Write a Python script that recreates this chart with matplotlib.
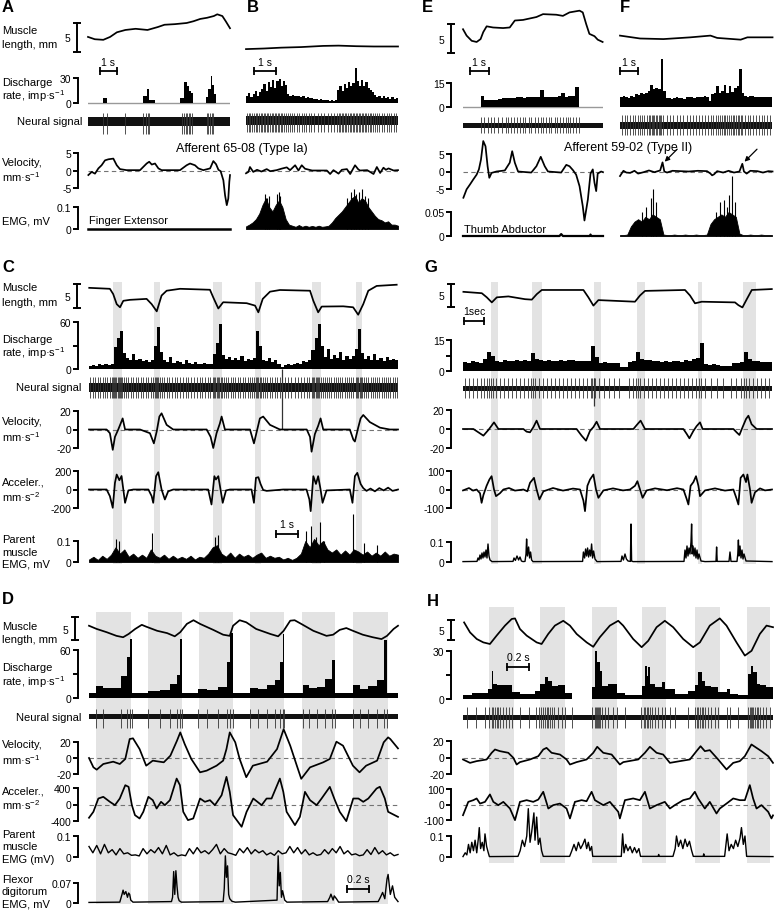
import numpy as np
import matplotlib
matplotlib.use("Agg")
import matplotlib.pyplot as plt

plt.rcParams["font.family"] = ["Liberation Sans", "DejaVu Sans"]
plt.rcParams["mathtext.fontset"] = "custom"
plt.rcParams["mathtext.rm"] = "Liberation Sans"
plt.rcParams["mathtext.it"] = "Liberation Sans:italic"
plt.rcParams["font.size"] = 8

W, H = 774, 912
fig = plt.figure(figsize=(W / 100, H / 100), dpi=100)

# ---------------- panel A (s, mm, imp/s, mm/s, mV) ----------------
A_T = 8.35
A_len_t = [0, 0.4, 0.9, 1.3, 1.7, 2.2, 2.8, 3.5, 4.1, 4.5, 5.1, 5.8, 6.2, 6.6, 7.0, 7.4, 7.6, 7.9, 8.1, 8.35]
A_len = [2.6, 2.2, 2.1, 2.6, 3.4, 3.8, 4.0, 3.8, 4.3, 4.7, 4.8, 5.0, 5.3, 5.7, 5.9, 6.2, 6.5, 6.2, 5.3, 4.1]
A_rate_edges = [0, 0.88, 1.12, 3.24, 3.47, 3.59, 3.94, 5.41, 5.66, 5.80, 5.92, 6.04, 6.16, 6.94, 7.08, 7.22, 7.31, 7.41, 7.53, 8.35]
A_rate = [0, 6, 0, 8, 17, 4, 0, 6, 25, 20, 15, 12, 0, 7, 17, 32, 22, 11, 0]
A_spk = [0.9, 1.1, 2.18, 3.25, 3.39, 3.51, 3.59, 5.51, 5.65, 5.76, 5.84, 5.92, 6.0, 6.1, 6.98, 7.08, 7.18, 7.28, 7.37]
A_vel_t = [0.02, 0.22, 0.41, 0.61, 0.8, 1.0, 1.2, 1.49, 1.69, 1.88, 2.27, 3.06, 3.45, 3.6, 3.75, 3.94, 4.14, 4.33,
           4.53, 5.41, 5.8, 6.0, 6.29, 6.49, 6.78, 7.18, 7.37, 7.53, 7.67, 7.8, 7.96, 8.06, 8.16, 8.25, 8.31, 8.35]
A_vel = [-1.3, -0.4, -0.9, 0.6, 1.5, 2.9, 3.2, 3.4, 1.5, 0.4, 0.1, 0.1, 2.0, 2.5, 1.7, 2.0, 0.6, 0.1,
         0.1, 0.1, 1.5, 2.0, 1.5, 0.6, 0.1, 0.6, 2.7, 1.8, 0.2, -0.2, -2.8, -7.1, -9.9, -8.0, -3.2, -1.3]
A_emg_t = [0, 8.35]
A_emg = [0.0, 0.0]

# ---------------- panel B ----------------
B_T = 6.9
B_len_t = [0, 0.8, 1.6, 2.5, 3.5, 4.2, 5.0, 5.8, 6.9]
B_len = [0.5, 0.6, 0.75, 0.85, 1.05, 1.1, 1.0, 0.95, 0.95]
B_rate = [8, 12, 7, 11, 14, 9, 13,
          17, 23, 14, 25, 19, 28, 18, 26, 29, 20, 27, 22,
          11, 9, 10, 8, 9, 8, 7, 8, 6, 7, 6, 6,
          5, 5, 4, 5, 4, 4, 4, 3, 4, 3, 4,
          16, 21, 15, 23, 18, 25, 20, 24, 42,
          26, 21, 28, 20, 25, 18, 16, 13,
          10, 7, 9, 6, 8, 6, 7, 5, 7, 5, 6]
B_spk = [0.04, 0.12, 0.2, 0.28, 0.36, 0.44, 0.52, 0.6,
         0.67, 0.74, 0.81, 0.88, 0.95, 1.02, 1.09, 1.16, 1.23, 1.3, 1.37, 1.44, 1.51, 1.58, 1.65, 1.72, 1.8,
         1.9, 2.0, 2.1, 2.2, 2.3, 2.41, 2.52, 2.63, 2.74, 2.85, 2.97,
         3.1, 3.25, 3.4, 3.55, 3.7, 3.85, 4.0,
         4.14, 4.21, 4.28, 4.35, 4.42, 4.49, 4.56, 4.63, 4.7, 4.77, 4.84, 4.91, 4.98, 5.05, 5.12, 5.19,
         5.26, 5.33, 5.4, 5.47, 5.54, 5.61, 5.68, 5.75,
         5.84, 5.94, 6.05, 6.16, 6.27, 6.38, 6.49, 6.6, 6.71, 6.82]
B_vel_t = [0, 0.11, 0.18, 0.33, 0.5, 0.7, 0.94, 1.1, 1.39, 1.6, 1.85, 2.0, 2.23, 2.38, 2.53, 2.68, 3.0, 3.36,
           3.67, 3.82, 3.97, 4.2, 4.35, 4.58, 4.73, 4.95, 5.1, 5.18, 5.5, 5.79, 5.94, 6.09, 6.24, 6.35, 6.47,
           6.7, 6.9]
B_vel = [-0.8, -0.4, 1.0, -0.4, 0.2, -0.3, 0.4, -0.2, 0.1, 0.5, 0.9, 0.1, 1.5, 0.0, 1.5, 0.5, 0.0, 0.0,
         0.0, -1.0, 0.1, -0.9, 0.2, 0.4, -1.0, 1.5, 0.3, 0.0, 0.1, -1.0, 1.0, -0.7, 0.8, 0.2, 0.6,
         0.0, 0.1]
B_emg = [0.012, 0.02, 0.03, 0.045, 0.07, 0.11, 0.14, 0.1, 0.08, 0.11, 0.13, 0.1, 0.045, 0.02,
         0.015, 0.01, 0.018, 0.01, 0.015, 0.01, 0.014, 0.01, 0.015, 0.01, 0.012, 0.015, 0.03,
         0.05, 0.065, 0.08, 0.1, 0.12, 0.14, 0.15, 0.12, 0.14, 0.13, 0.1, 0.08, 0.06, 0.045, 0.04,
         0.03, 0.035, 0.02, 0.02, 0.015]
B_emg_pk_t = [0.85, 0.95, 1.05, 1.4, 1.48, 1.56, 4.6, 4.75, 4.88, 5.0, 5.12, 5.25, 5.4, 5.55]
B_emg_pk = [0.16, 0.14, 0.15, 0.16, 0.17, 0.15, 0.14, 0.17, 0.18, 0.16, 0.17, 0.18, 0.15, 0.14]

# ---------------- panel E ----------------
E_T = 7.4
E_len_t = [0, 0.19, 0.46, 0.72, 0.93, 1.07, 1.25, 1.59, 2.12, 2.47, 2.74, 3.17, 3.88, 4.23, 4.93, 5.28, 5.63,
           6.16, 6.33, 6.51, 6.68, 6.95, 7.12, 7.38]
E_len = [4.1, 3.0, 2.1, 1.9, 2.4, 3.6, 4.6, 4.4, 4.3, 4.4, 5.6, 5.7, 6.2, 6.7, 6.6, 6.4, 7.0,
         7.3, 7.0, 5.0, 3.3, 2.9, 2.3, 1.9]
E_rate = [0, 0, 0, 0, 0, 7, 4.5, 4.3, 4.4, 4.2, 5, 5.5, 5.8, 5.5, 5.8, 6, 6, 5.8, 6.2, 6,
          6.5, 6.2, 10.5, 6.5, 6.2, 6.5, 6.4, 6.6, 9, 6.5, 6.8, 7, 12.3, 0, 0, 0, 0, 0, 0, 0]
E_spk = [0.95, 1.12, 1.3, 1.47, 1.65, 1.86, 2.04, 2.25, 2.39, 2.56, 2.7, 2.84, 3.02, 3.16, 3.3, 3.47, 3.61,
         3.79, 3.96, 4.11, 4.25, 4.39, 4.53, 4.67, 4.84, 4.98, 5.12, 5.28, 5.42, 5.54, 5.68, 5.82, 5.98, 6.11]
E_vel_t = [0.02, 0.19, 0.37, 0.54, 0.72, 0.84, 0.95, 1.07, 1.19, 1.3, 1.39, 1.51, 1.77, 2.21, 2.47, 2.6, 2.74,
           2.91, 3.61, 3.88, 4.11, 4.32, 4.49, 5.19, 5.46, 5.63, 5.81, 5.98, 6.16, 6.33, 6.42, 6.6, 6.74,
           6.86, 6.95, 7.04, 7.12, 7.3, 7.4]
E_vel = [-7.5, -5.1, -3.7, -2.3, -0.9, 0.6, 3.4, 8.7, 7.2, 1.5, -1.8, -0.4, 0.0, 0.3, 2.5, 5.8, 2.5,
         0.0, -0.3, 1.5, 4.2, 1.5, 0.0, -0.3, 1.9, 1.5, 0.4, -0.9, -4.2, -9.9, -14.0, -8.0, -0.6,
         0.6, -3.2, -5.6, -0.6, 0.0, -0.2]
E_emg_t = [0, 5.1, 5.19, 5.28, 6.7, 6.74, 6.78, 7.4]
E_emg = [0.0, 0.0, 0.004, 0.0, 0.0, 0.003, 0.0, 0.0]

# ---------------- panel F ----------------
F_T = 8.4
F_len_t = [0, 1.11, 2.4, 3.89, 5.0, 5.37, 6.67, 7.04, 8.43]
F_len = [3.0, 2.5, 2.4, 2.7, 3.0, 2.6, 2.3, 2.7, 2.7]
F_rate = [6, 7, 6.5, 5.5, 7, 6.5, 8, 7.5, 9, 8, 8.5, 10, 14, 11, 12, 11, 30, 10,
          5.5, 5.5, 5, 5.5, 6, 5.5, 5.5, 5, 6, 6, 6.5, 5.5, 6, 6.5, 6, 7, 6, 4,
          8, 9, 13, 8.5, 10, 14, 9, 13, 9.5, 12, 13, 24, 9,
          7, 6.5, 7, 7, 6.5, 6, 6.5, 6, 6, 6.5, 6]
F_spk = [0.1, 0.25, 0.4, 0.55, 0.7, 0.84, 0.97, 1.1, 1.22, 1.35, 1.47, 1.58, 1.67, 1.75, 1.83, 1.9, 1.98, 2.05,
         2.13, 2.2, 2.25, 2.4, 2.58, 2.76, 2.95, 3.13, 3.31, 3.5, 3.68, 3.85, 4.02, 4.19, 4.36, 4.53, 4.7,
         4.86, 5.04, 5.16, 5.28, 5.4, 5.5, 5.62, 5.72, 5.83, 5.93, 6.04, 6.13, 6.23, 6.32, 6.42, 6.5, 6.6,
         6.68, 6.76, 6.9, 7.05, 7.2, 7.35, 7.5, 7.66, 7.82, 7.98, 8.14, 8.3]
F_vel_t = [0, 0.1, 0.19, 0.35, 0.56, 0.8, 1.0, 1.3, 1.6, 1.9, 2.22, 2.35, 2.45, 2.6, 2.9, 3.33, 3.8, 4.3, 4.81,
           5.0, 5.09, 5.2, 5.37, 5.7, 6.0, 6.3, 6.6, 6.76, 6.85, 7.0, 7.2, 7.59, 7.9, 8.2, 8.43]
F_vel = [-1.3, -0.5, 0.2, -0.3, -0.4, 0.2, -0.6, -0.2, 0.3, -0.2, 0.3, 2.6, 0.0, -0.3, 0.2, 0.1, 0.0, 0.2, 0.1,
         -0.6, -1.1, -0.8, 0.1, -0.3, 0.2, -0.3, 0.0, 2.2, 0.0, -0.6, 0.2, 0.1, -0.3, 0.1, 0.0]
F_arrow_t = [2.35, 6.76]
F_emg = [0.002, 0.002, 0.003, 0.02, 0.03, 0.035, 0.03, 0.04, 0.035, 0.045, 0.04, 0.035, 0.003,
         0.002, 0.002, 0.003, 0.002, 0.002, 0.003, 0.002, 0.002, 0.003, 0.002, 0.002, 0.003,
         0.025, 0.035, 0.04, 0.045, 0.04, 0.05, 0.045, 0.04, 0.005,
         0.002, 0.002, 0.003, 0.002, 0.002, 0.003, 0.002, 0.002, 0.002]
F_emg_pk_t = [1.2, 1.45, 1.7, 1.85, 2.0, 5.3, 5.5, 5.75, 5.9, 6.05, 6.2, 6.35]
F_emg_pk = [0.05, 0.06, 0.08, 0.098, 0.07, 0.05, 0.07, 0.075, 0.06, 0.085, 0.126, 0.07]

# ---------------- panel C ----------------
C_T = 14.05
C_bands = [(1.09, 1.5), (2.95, 3.23), (5.64, 6.05), (7.55, 7.82), (10.14, 10.55), (12.14, 12.41)]
C_len_t = [0.01, 0.95, 1.1, 1.26, 1.41, 1.56, 1.86, 2.62, 2.85, 3.08, 3.3, 3.53, 4.14, 5.5, 5.65, 5.88, 6.1,
           7.17, 7.55, 7.7, 7.9, 8.23, 8.68, 10.05, 10.2, 10.42, 10.58, 11.56, 12.01, 12.24, 12.47, 12.7,
           13.08, 13.99]
C_len = [4.2, 4.0, 2.9, 0.8, 0.15, 1.5, 1.7, 1.9, 0.8, -0.7, 2.6, 3.6, 4.0, 3.8, 2.2, -0.1, 1.2,
         1.0, 0.5, -0.9, 1.9, 3.4, 3.75, 3.6, 1.5, -0.9, 0.3, 0.35, 0.15, -1.4, 0.8, 3.6, 4.6, 4.85]
C_rate = [4, 5, 4, 6, 5, 6, 5, 7,
          28, 40, 49, 20,
          14, 12, 19, 11, 13, 10, 12, 9, 11,
          30, 53, 22,
          12, 9, 15, 8, 10, 9, 7, 11, 8, 6, 9, 7, 6, 8, 7, 6,
          19, 33, 57, 18,
          13, 15, 11, 14, 12, 17, 10, 13, 11, 14,
          49, 30,
          12, 10, 14, 9, 11, 7, 3,
          5, 6, 5, 7, 8, 6, 10, 9, 12,
          24, 40, 57, 30,
          15, 26, 13, 18, 14, 22, 12, 16, 13, 17,
          25, 51, 20,
          13, 16, 11, 19, 12, 14, 10, 15, 11, 13, 12]
C_spk = [0.05, 0.17, 0.28, 0.4, 0.5, 0.62, 0.73, 0.84, 0.95, 1.04, 1.1, 1.15, 1.2, 1.25, 1.3, 1.35, 1.4, 1.45,
         1.5, 1.58, 1.68, 1.79, 1.9, 2.0, 2.12, 2.23, 2.35, 2.46, 2.57, 2.68, 2.8, 2.9, 2.98, 3.04, 3.1, 3.16,
         3.22, 3.3, 3.42, 3.54, 3.66, 3.78, 3.9, 4.02, 4.15, 4.28, 4.4, 4.52, 4.65, 4.78, 4.9, 5.03, 5.16,
         5.28, 5.4, 5.52, 5.62, 5.68, 5.74, 5.8, 5.86, 5.92, 5.98, 6.04, 6.12, 6.22, 6.33, 6.44, 6.55, 6.66,
         6.77, 6.88, 6.99, 7.1, 7.21, 7.32, 7.43, 7.52, 7.58, 7.64, 7.7, 7.76, 7.82, 7.9, 8.0, 8.11, 8.22,
         8.33, 8.44, 8.56, 8.68, 8.9, 9.05, 9.2, 9.35, 9.5, 9.64, 9.77, 9.9, 10.02, 10.12, 10.18, 10.24,
         10.3, 10.36, 10.42, 10.48, 10.54, 10.62, 10.72, 10.82, 10.92, 11.02, 11.12, 11.22, 11.32, 11.42,
         11.52, 11.62, 11.72, 11.82, 11.92, 12.02, 12.12, 12.18, 12.24, 12.3, 12.36, 12.42, 12.5, 12.6,
         12.7, 12.8, 12.9, 13.0, 13.1, 13.2, 13.3, 13.4, 13.5, 13.6, 13.7, 13.8, 13.9, 14.0]
C_artifact_t = 8.76
C_vel_t = [0, 0.8, 0.95, 1.08, 1.18, 1.33, 1.44, 1.53, 1.64, 2.32, 2.77, 2.95, 3.08, 3.2, 3.3, 3.53, 3.83, 5.35,
           5.53, 5.65, 5.8, 5.95, 6.03, 6.18, 7.32, 7.5, 7.62, 7.77, 7.92, 8.23, 8.68, 9.9, 10.05, 10.12,
           10.27, 10.42, 10.53, 10.65, 11.86, 12.02, 12.09, 12.24, 12.35, 12.47, 12.77, 13.23, 13.68, 14.05]
C_vel = [0, 0, -4, -22, -8, 0, 6.5, 12, 0, 0, -4, -15, -2, 14, 17.5, 5, 0, 0,
         -8, -20, -4, 6.5, 14, 0, 0, -15, -3, 12, 14, 5, 0, 0, -8, -24,
         -5, 4, 12, 0, 0, -11, -13, 2, 12, 15.7, 8, 2, 0, 0]
C_acc_t = [0, 0.8, 0.95, 1.08, 1.18, 1.26, 1.38, 1.48, 1.56, 1.64, 1.79, 2.02, 2.7, 2.85, 2.92, 3.05, 3.15, 3.3,
           3.45, 3.6, 3.83, 5.42, 5.57, 5.7, 5.77, 5.88, 5.98, 6.08, 6.23, 6.41, 7.39, 7.5, 7.59, 7.7, 7.8,
           7.92, 8.08, 8.83, 9.89, 10.02, 10.08, 10.2, 10.32, 10.42, 10.53, 10.62, 10.8, 11.86, 11.98, 12.09,
           12.2, 12.35, 12.47, 12.62, 12.8, 13.0, 13.2, 13.4, 13.6, 13.8, 14.05]
C_acc = [0, 0, -72, -198, 72, 162, 100, 146, 0, -144, -10, 0, 0, -72, -144, 144, 187, 0,
         -108, -20, 0, 0, -162, 144, 108, 144, 0, -144, -10, 0, 0, -144, 126, 133, 60,
         -5, -15, 0, 0, -108, -234, 144, 60, 144, 0, -144, -10, 0, -144, 144,
         180, 60, 15, -15, 10, -20, 15, -10, 20, -15, 0]
C_emg = [0.012, 0.025, 0.01, 0.03, 0.015, 0.035,
         0.07, 0.04, 0.06,
         0.025, 0.04, 0.02, 0.035, 0.02,
         0.06,
         0.03, 0.02, 0.035, 0.015, 0.03, 0.015, 0.025, 0.015, 0.03, 0.012, 0.025, 0.02,
         0.04, 0.07, 0.08, 0.04,
         0.025, 0.045, 0.02, 0.04, 0.025, 0.035, 0.02, 0.035, 0.045, 0.02, 0.03, 0.02, 0.025, 0.012, 0.02,
         0.01, 0.02,
         0.04, 0.1, 0.07, 0.11, 0.08, 0.1, 0.06,
         0.045, 0.06, 0.035, 0.055, 0.035,
         0.06,
         0.05, 0.035, 0.05, 0.03, 0.045, 0.03, 0.05, 0.03, 0.04, 0.035]
C_emg_pk_t = [1.25, 1.35, 2.85, 5.75, 5.85, 9.85, 10.1, 10.3, 10.5, 10.7, 12.02, 12.5, 13.1]
C_emg_pk = [0.11, 0.1, 0.14, 0.12, 0.13, 0.15, 0.17, 0.12, 0.19, 0.1, 0.23, 0.09, 0.08]

# ---------------- panel G ----------------
G_T = 15.45
G_bands = [(1.4, 1.75), (3.45, 3.95), (6.55, 6.9), (8.7, 9.1), (11.75, 11.95), (14.0, 14.65)]
G_len_t = [0.02, 0.94, 1.19, 1.44, 1.69, 2.27, 3.1, 3.44, 3.69, 3.94, 6.02, 6.27, 6.52, 6.77, 8.6, 8.85, 9.1,
           11.1, 11.35, 11.6, 11.94, 13.6, 13.77, 13.97, 14.19, 14.44, 15.44]
G_len = [3.3, 3.0, 2.1, 1.0, 2.1, 2.3, 1.7, 1.6, 2.8, 3.7, 3.7, 2.1, 0.3, 1.5, 1.15, 2.5, 3.5,
         3.7, 2.5, 0.8, 1.15, 1.0, 0.4, -0.1, 1.7, 3.7, 3.9]
G_rate = [4.5, 4, 5, 4.5, 4, 6, 9.3, 7.3,
          5, 4.5, 5.5, 5, 4.8, 5.5, 5, 5.5, 4.8, 8.5,
          6, 5.5, 5, 5.5, 5, 4.8, 5.5, 5, 5.5, 5.2, 4.8, 5, 4.6, 5,
          12.2, 7, 4, 4.2, 4, 3.8, 4, 1.8, 2, 4.5, 5, 9.3,
          6, 5.5, 5.5, 5, 5, 4.5, 5, 4.5, 4.6, 5, 4.5, 5.5, 5, 6,
          6.5, 13.7, 3.5, 3, 3.2, 3, 2.2, 2.3, 2.5, 4, 3.8, 4.2, 9,
          6, 5, 5, 4.5, 4.5, 4.5]
G_spk = [0.1, 0.3, 0.5, 0.7, 0.9, 1.05, 1.2, 1.32, 1.42, 1.52, 1.65, 1.85, 2.05, 2.25, 2.45, 2.65, 2.85, 3.05,
         3.25, 3.42, 3.5, 3.62, 3.8, 4.0, 4.2, 4.4, 4.6, 4.8, 5.0, 5.2, 5.4, 5.6, 5.8, 6.0, 6.2, 6.4, 6.47,
         6.55, 6.62, 6.8, 7.05, 7.3, 7.55, 7.8, 8.3, 8.5, 8.65, 8.73, 8.85, 9.05, 9.25, 9.45, 9.65, 9.85,
         10.05, 10.25, 10.45, 10.65, 10.85, 11.05, 11.25, 11.45, 11.65, 11.8, 11.88, 12.1, 12.4, 12.7, 13.0,
         13.4, 13.65, 13.9, 14.05, 14.15, 14.3, 14.5, 14.7, 14.9, 15.1, 15.3]
G_artifact_t = 6.57
G_vel_t = [0, 0.52, 0.77, 1.02, 1.27, 1.43, 1.55, 1.77, 3.02, 3.18, 3.35, 3.52, 3.68, 3.85, 5.68, 5.93, 6.15,
           6.35, 6.52, 6.68, 6.85, 8.52, 8.72, 8.88, 9.1, 11.02, 11.18, 11.32, 11.52, 11.68, 11.85, 11.98,
           13.52, 13.68, 13.82, 13.98, 14.15, 14.27, 14.43, 14.68, 15.45]
G_vel = [0, 0, -3.5, -7, -1, 3.5, 7, 0, 0, -2.8, -3.5, 2, 8.8, 0, 0, -7, -12.3,
         -2, 2, 7.7, 0, 0, 5, 8.8, 0, 0, -5, -9.8, -2, 3, 7, 0,
         0, -3.5, -6.3, 2, 10.5, 14, 5, 0, 0]
G_acc_t = [0, 0.3, 0.5, 0.68, 0.85, 0.93, 1.02, 1.18, 1.32, 1.43, 1.55, 1.65, 1.85, 2.02, 2.3, 2.6, 3.02, 3.22,
           3.35, 3.55, 3.68, 3.82, 4.02, 4.5, 5.0, 5.5, 5.85, 6.02, 6.1, 6.22, 6.35, 6.52, 6.65, 6.77, 7.02,
           7.5, 8.0, 8.35, 8.6, 8.72, 8.85, 8.98, 9.18, 9.6, 10.2, 10.7, 11.02, 11.18, 11.27, 11.38, 11.52,
           11.65, 11.77, 11.85, 12.1, 12.6, 13.1, 13.52, 13.68, 13.77, 13.88, 14.02, 14.15, 14.22, 14.35,
           14.43, 14.6, 14.85, 15.1, 15.45]
G_acc = [-5, 8, -6, 0, -20, -72, -30, 20, 54, 72, 0, -36, -20, 0, 8, -6, 0, -10,
         36, 63, 0, -54, -10, 8, -6, 5, 0, -60, -117, 20, 54, 81, 0, -45, -5,
         6, -5, 0, 20, 45, 0, -45, -5, 6, -4, 7, 0, -50, -81, 20, 40,
         72, 20, -36, -5, 6, -6, 0, -50, -81, 63, 81, 40, 81, 0,
         -72, -15, 6, -5, 0]
G_emg_t = [0, 0.7, 0.75, 0.8, 0.85, 0.9, 0.95, 1.0, 1.05, 1.1, 1.15, 1.2, 1.25, 1.3, 1.35, 1.45, 2.5, 2.55, 2.62,
           2.7, 2.78, 2.85, 2.92, 3.0, 3.1, 3.15, 3.18, 3.22, 3.28, 3.33, 3.38, 3.43, 3.5, 5.98, 6.02, 6.08,
           6.13, 6.18, 6.23, 6.28, 6.33, 6.38, 6.43, 6.48, 6.53, 6.6, 6.7, 7.9, 7.95, 8.02, 8.1, 8.17, 8.25,
           8.37, 8.4, 8.43, 8.5, 11.05, 11.1, 11.15, 11.2, 11.25, 11.3, 11.35, 11.4, 11.43, 11.46, 11.5,
           11.55, 11.6, 11.65, 11.7, 11.75, 11.8, 11.9, 12.1, 12.65, 12.68, 12.71, 13.3, 13.35, 13.4, 13.7,
           13.74, 13.77, 13.8, 13.85, 13.9, 13.95, 14.0, 14.05, 14.15, 15.45]
G_emg = [0.002, 0.003, 0.02, 0.01, 0.035, 0.015, 0.045, 0.02, 0.05, 0.025, 0.06, 0.02, 0.09, 0.03, 0.01, 0.002,
         0.003, 0.02, 0.008, 0.03, 0.01, 0.025, 0.005, 0.002, 0.003, 0.04, 0.115, 0.03, 0.075, 0.02, 0.05,
         0.01, 0.002, 0.003, 0.05, 0.02, 0.065, 0.03, 0.07, 0.025, 0.06, 0.03, 0.09, 0.02, 0.055, 0.015,
         0.002, 0.003, 0.03, 0.01, 0.04, 0.015, 0.005, 0.003, 0.19, 0.005, 0.002, 0.003, 0.06, 0.02, 0.08,
         0.03, 0.07, 0.04, 0.1, 0.19, 0.04, 0.08, 0.03, 0.07, 0.02, 0.06, 0.015, 0.04, 0.005, 0.002, 0.003,
         0.075, 0.003, 0.003, 0.05, 0.003, 0.003, 0.04, 0.11, 0.03, 0.08, 0.02, 0.06, 0.015, 0.04, 0.005,
         0.002]

# ---------------- panel D ----------------
D_T = 2.81
D_bands = [(0.064, 0.38), (0.54, 0.85), (1.0, 1.31), (1.46, 1.77), (1.94, 2.24), (2.4, 2.72)]
D_len_t = [0, 0.07, 0.16, 0.25, 0.31, 0.36, 0.42, 0.48, 0.52, 0.62, 0.71, 0.78, 0.83, 0.89, 0.95, 1.01, 1.13,
           1.22, 1.28, 1.31, 1.37, 1.43, 1.52, 1.65, 1.72, 1.77, 1.83, 1.87, 1.93, 2.04, 2.16, 2.22, 2.28,
           2.34, 2.4, 2.49, 2.58, 2.66, 2.71, 2.77, 2.81]
D_len = [3.1, 2.4, 1.7, 0.9, 0.6, 1.3, 2.4, 3.3, 2.9, 2.0, 1.5, 0.8, 1.7, 3.5, 4.3, 3.5, 2.2,
         1.15, 0.9, 3.1, 4.3, 3.85, 2.4, 1.3, 0.8, 2.0, 4.2, 4.3, 3.5, 2.0, 0.9, 1.15, 2.2,
         2.6, 2.0, 1.15, 0.6, 0.2, 0.9, 2.4, 3.1]
D_rate_edges = [0.0, 0.064, 0.13, 0.288, 0.342, 0.373, 0.394, 0.539, 0.645, 0.736, 0.797, 0.827, 0.842, 0.994,
                1.07, 1.176, 1.252, 1.282, 1.306, 1.464, 1.539, 1.615, 1.691, 1.736, 1.767, 1.776, 1.942,
                2.003, 2.076, 2.145, 2.206, 2.236, 2.403, 2.464, 2.539, 2.615, 2.682, 2.706, 2.81]
D_rate = [6.2, 14.6, 12.5, 28, 51, 74, 6, 8.7, 10, 17.5, 29, 74, 6, 10.8, 9.6, 14, 45, 81, 6,
          12.5, 11.7, 15.8, 22.9, 45, 80, 6, 16.7, 12.5, 14, 24, 47, 6, 15.8, 11.7, 15, 23, 73, 6]
D_vel_t = [0, 0.04, 0.07, 0.13, 0.22, 0.28, 0.33, 0.37, 0.4, 0.46, 0.52, 0.58, 0.68, 0.74, 0.8, 0.83, 0.87, 0.93,
           1.01, 1.07, 1.16, 1.22, 1.25, 1.28, 1.33, 1.37, 1.43, 1.49, 1.62, 1.71, 1.77, 1.83, 1.89, 1.93,
           2.01, 2.13, 2.19, 2.25, 2.31, 2.4, 2.46, 2.52, 2.62, 2.68, 2.72, 2.74, 2.81]
D_vel = [0, -11.6, -14.6, -7.5, -4.6, -7.5, -1.2, 23.7, 24.6, 11.2, -9.6, -3.3, -5.4, 2.9, 21.6, 32, 17.5, -1.2,
         -17.9, -15.8, -9.6, -3.3, 11.2, 32, 19.6, -1.2, -24, -9.6, -4.6, 11.2, 36, 15.4, -9.6, -26,
         -11.7, -5.4, -1.2, 20.4, 15.4, -9.6, -17.9, -9.6, -3.3, 19.6, 25.8, 23.7, 12]
D_acc_t = [0, 0.04, 0.085, 0.13, 0.19, 0.236, 0.28, 0.33, 0.36, 0.39, 0.418, 0.46, 0.494, 0.54, 0.58, 0.615,
           0.655, 0.69, 0.736, 0.797, 0.827, 0.857, 0.9, 0.948, 1.01, 1.054, 1.1, 1.145, 1.206, 1.25, 1.28,
           1.31, 1.388, 1.433, 1.494, 1.57, 1.615, 1.66, 1.736, 1.767, 1.797, 1.873, 1.918, 1.964, 2.01,
           2.07, 2.115, 2.19, 2.236, 2.28, 2.34, 2.403, 2.45, 2.494, 2.54, 2.615, 2.645, 2.69, 2.72, 2.81]
D_acc = [-322, -177, 145, 186, 65, -16, 145, 468, 428, -16, -258, -339, -177, 186, 105, -97,
         65, -16, 105, 629, 468, -177, -379, -339, 145, 65, 105, -16, 226, 670, 307,
         -258, -540, -177, 145, -16, 145, 145, 629, 307, -177, -500, -298, 307, 105,
         -16, 145, 428, 105, -177, -403, 145, 145, 65, 145, 387, 430, 145, -177, -300]
D_pemg = [0.05, 0.02, 0.055, 0.015, 0.06, 0.02, 0.035, 0.01, 0.04, 0.015, 0.02, 0.008, 0.01, 0.005, 0.04, 0.015,
          0.035, 0.02, 0.045, 0.015, 0.055, 0.01, 0.02, 0.005, 0.01, 0.006, 0.04, 0.015, 0.045, 0.02, 0.03,
          0.015, 0.035, 0.06, 0.015, 0.04, 0.02, 0.015, 0.008, 0.04, 0.02, 0.045, 0.015, 0.035, 0.02, 0.03,
          0.01, 0.02, 0.008, 0.03, 0.015, 0.02, 0.05, 0.02, 0.045, 0.015, 0.035, 0.01, 0.02, 0.008, 0.012,
          0.035, 0.015, 0.04, 0.02, 0.05, 0.015, 0.03, 0.01, 0.015, 0.006, 0.01, 0.035, 0.012, 0.045, 0.015,
          0.03, 0.01, 0.02, 0.006, 0.012]
D_femg_t = [0, 0.28, 0.3, 0.31, 0.32, 0.335, 0.35, 0.36, 0.37, 0.38, 0.4, 0.75, 0.76, 0.77, 0.78, 0.79, 0.8, 0.81,
            0.82, 0.84, 1.22, 1.23, 1.24, 1.25, 1.26, 1.27, 1.28, 1.3, 1.33, 1.71, 1.72, 1.73, 1.74, 1.75, 1.76,
            1.78, 1.8, 2.17, 2.19, 2.2, 2.22, 2.23, 2.25, 2.27, 2.63, 2.65, 2.67, 2.69, 2.71, 2.72, 2.74, 2.76,
            2.78, 2.81]
D_femg = [0.002, 0.003, 0.03, 0.045, 0.03, 0.04, 0.02, 0.035, 0.03, 0.01, 0.003, 0.005, 0.02, 0.11, 0.03, 0.113,
          0.06, 0.02, 0.008, 0.003, 0.005, 0.05, 0.165, 0.09, 0.13, 0.03, 0.015, 0.006, 0.003, 0.01, 0.165, 0.06,
          0.107, 0.02, 0.043, 0.01, 0.003, 0.005, 0.02, 0.031, 0.01, 0.025, 0.015, 0.003, 0.005, 0.02, 0.037,
          0.015, 0.084, 0.1, 0.03, 0.06, 0.02, 0.005]

# ---------------- panel H ----------------
H_T = 2.82
H_bands = [(0.236, 0.464), (0.7, 0.927), (1.173, 1.4), (1.627, 1.845), (2.11, 2.336), (2.58, 2.79)]
H_len_t = [0.01, 0.064, 0.125, 0.185, 0.245, 0.306, 0.382, 0.443, 0.473, 0.518, 0.579, 0.67, 0.715, 0.775,
           0.836, 0.912, 0.973, 1.034, 1.125, 1.185, 1.245, 1.336, 1.412, 1.457, 1.548, 1.625, 1.685, 1.761,
           1.836, 1.912, 2.003, 2.094, 2.155, 2.245, 2.336, 2.397, 2.488, 2.564, 2.625, 2.7, 2.761, 2.82]
H_len = [4.4, 1.9, 0.25, -0.6, -1.0, 1.1, 3.6, 5.25, 5.4, 2.75, 1.1, -0.6, -1.0, 1.5,
         3.6, 4.8, 3.6, 1.5, -0.6, -1.7, 0.7, 3.6, 4.8, 3.6, 0.25, -1.8, -0.2, 3.2,
         4.8, 3.2, 0.25, -1.8, -0.6, 3.6, 5.4, 3.6, -0.6, -3.9, -2.7, 1.5, 3.6, 3.2]
H_rate_edges = [0.0, 0.079, 0.155, 0.23, 0.261, 0.276, 0.306, 0.367, 0.442, 0.518, 0.594, 0.655, 0.7, 0.745,
                0.776, 0.806, 0.867, 0.927, 0.988, 1.17, 1.2, 1.215, 1.245, 1.26, 1.321, 1.397, 1.473, 1.624,
                1.655, 1.67, 1.685, 1.7, 1.745, 1.806, 1.836, 1.927, 2.048, 2.109, 2.139, 2.17, 2.2, 2.26,
                2.321, 2.397, 2.427, 2.503, 2.594, 2.624, 2.639, 2.67, 2.7, 2.76, 2.82]
H_rate = [2.7, 3.5, 4, 6.2, 17.7, 9.4, 8.5, 9, 4.2, 3.1, 3.1, 5.2, 9.4, 14, 11.5, 8.3, 9, 4, 0, 7.3,
          30, 23, 17.7, 8.3, 9.4, 4, 2.7, 8, 20.8, 14.6, 19.8, 9.4, 7.7, 10.4, 6.2, 3.1, 4.8, 8.5, 16.7, 11.5,
          8.3, 7.3, 4.6, 6.5, 3.1, 2.7, 15.6, 20.8, 16.7, 9.4, 8.5, 7.7]
H_spk = [0.04, 0.12, 0.2, 0.24, 0.262, 0.276, 0.29, 0.306, 0.32, 0.34, 0.367, 0.39, 0.42, 0.45, 0.52, 0.6, 0.66,
         0.69, 0.71, 0.73, 0.745, 0.76, 0.776, 0.79, 0.806, 0.83, 0.867, 0.9, 0.93, 0.99, 1.17, 1.2, 1.21,
         1.215, 1.225, 1.235, 1.245, 1.26, 1.29, 1.321, 1.36, 1.397, 1.47, 1.62, 1.645, 1.655, 1.67, 1.685,
         1.7, 1.72, 1.745, 1.77, 1.806, 1.836, 1.88, 1.93, 2.05, 2.11, 2.13, 2.139, 2.155, 2.17, 2.185, 2.2,
         2.23, 2.26, 2.29, 2.321, 2.4, 2.43, 2.5, 2.594, 2.61, 2.624, 2.632, 2.639, 2.655, 2.67, 2.685, 2.7,
         2.73, 2.76, 2.79]
H_vel_t = [0, 0.064, 0.124, 0.215, 0.261, 0.291, 0.336, 0.412, 0.458, 0.488, 0.518, 0.609, 0.685, 0.73, 0.76,
           0.806, 0.882, 0.942, 0.973, 1.033, 1.124, 1.185, 1.221, 1.276, 1.352, 1.427, 1.458, 1.594, 1.655,
           1.7, 1.761, 1.821, 1.882, 1.973, 2.064, 2.124, 2.161, 2.2, 2.245, 2.321, 2.397, 2.458, 2.518,
           2.564, 2.624, 2.67, 2.715, 2.776, 2.82]
H_vel = [-2.4, -6.5, -4.4, -2.4, 5.7, 9.7, 7.7, 5.7, -0.4, -8.5, -5.6, -2.4, 1.6, 9.7, 11.7,
         5.7, 3.6, -2.4, -8.5, -5.6, -2.4, 5.7, 13, 5.7, 3.6, -8.5, -5.6, -2.4, 5.7,
         13, 5.7, 3.6, -6.5, -4.4, -2.4, 7.7, 13.7, 7.7, 8.9, -2.4, -14.5, -6.5, -4.4,
         1.6, 15.8, 11.7, 7.7, 1.6, -6.5]
H_acc_t = [0, 0.048, 0.094, 0.124, 0.155, 0.2, 0.245, 0.276, 0.321, 0.367, 0.427, 0.473, 0.518, 0.579, 0.639,
           0.685, 0.73, 0.776, 0.821, 0.882, 0.942, 0.973, 1.018, 1.079, 1.124, 1.17, 1.2, 1.276, 1.336, 1.412,
           1.427, 1.473, 1.548, 1.609, 1.655, 1.7, 1.761, 1.836, 1.882, 1.927, 2.003, 2.064, 2.109, 2.139,
           2.2, 2.245, 2.306, 2.336, 2.397, 2.458, 2.518, 2.564, 2.609, 2.639, 2.67, 2.715, 2.776, 2.806, 2.82]
H_acc = [-69, 17, 28, 39, 6, 17, 65, 17, -4, 17, -26, -101, 17, 28, 17,
         32, 82, -26, -4, 6, -26, -90, 17, 28, 21, 82, 28, -4, 17, -47,
         -90, 28, 39, 28, 82, -26, -4, 17, -26, -4, 28, 39, 82, 39,
         -26, 17, -58, -26, 6, 39, 28, 28, 125, 39, -26, -4, -47, -90, -70]
H_emg_t = [0, 0.02, 0.035, 0.05, 0.065, 0.08, 0.095, 0.11, 0.125, 0.14, 0.148, 0.16, 0.175, 0.19, 0.2, 0.215, 0.23,
           0.24, 0.5, 0.52, 0.54, 0.56, 0.58, 0.594, 0.61, 0.625, 0.645, 0.655, 0.67, 0.685, 0.7, 0.715, 0.73,
           0.97, 0.99, 1.01, 1.03, 1.05, 1.07, 1.09, 1.109, 1.125, 1.14, 1.155, 1.17, 1.18, 1.44, 1.452, 1.465,
           1.48, 1.5, 1.52, 1.54, 1.56, 1.58, 1.6, 1.615, 1.775, 1.78, 1.785, 1.91, 1.93, 1.942, 1.96, 1.98,
           2.0, 2.02, 2.04, 2.06, 2.08, 2.095, 2.185, 2.19, 2.195, 2.38, 2.403, 2.42, 2.44, 2.46, 2.48, 2.5,
           2.52, 2.533, 2.55, 2.565, 2.58, 2.82]
H_emg = [0.002, 0.02, 0.01, 0.06, 0.02, 0.07, 0.03, 0.08, 0.02, 0.09, 0.14, 0.04, 0.07, 0.03, 0.11, 0.05, 0.02,
         0.002, 0.003, 0.03, 0.08, 0.05, 0.1, 0.23, 0.07, 0.12, 0.21, 0.08, 0.19, 0.06, 0.09, 0.03, 0.003,
         0.003, 0.03, 0.06, 0.03, 0.07, 0.04, 0.06, 0.085, 0.04, 0.07, 0.03, 0.05, 0.003, 0.003, 0.11, 0.02,
         0.06, 0.03, 0.05, 0.02, 0.045, 0.02, 0.04, 0.003, 0.003, 0.012, 0.003, 0.003, 0.04, 0.1, 0.05, 0.08,
         0.04, 0.085, 0.05, 0.075, 0.03, 0.003, 0.003, 0.015, 0.003, 0.003, 0.11, 0.03, 0.06, 0.04, 0.08,
         0.05, 0.09, 0.14, 0.06, 0.1, 0.003, 0.002]

# ---------------- drawing helpers (pixel layout) ----------------
LW = 1.25
SPINE_LW = 1.4
SHADE = "#e3e3e3"
TICK_FS = 7.5


def axes_at(x0, x1, t_end, p_hi, v_hi, p_lo, v_lo, pad=5):
    k = (p_lo - p_hi) / (v_hi - v_lo)
    top, bot = p_hi - pad, p_lo + pad
    ax = fig.add_axes([x0 / W, 1 - bot / H, (x1 - x0) / W, (bot - top) / H])
    ax.set_xlim(0, t_end)
    ax.set_ylim(v_lo - pad / k, v_hi + pad / k)
    ax.patch.set_visible(False)
    for s in ax.spines.values():
        s.set_visible(False)
    ax.set_xticks([])
    ax.set_yticks([])
    return ax


def yscale(ax, sx, x0, ticks, labels):
    sp = ax.spines["left"]
    sp.set_visible(True)
    sp.set_position(("outward", (x0 - sx) * 0.72))
    sp.set_bounds(ticks[0], ticks[-1])
    sp.set_linewidth(SPINE_LW)
    ax.set_yticks(ticks)
    ax.set_yticklabels(labels)
    ax.tick_params(axis="y", direction="out", length=3.5, width=SPINE_LW, pad=1.2, labelsize=TICK_FS)


def len_scale(ax, sx, x0):
    sp = ax.spines["left"]
    sp.set_visible(True)
    sp.set_position(("outward", (x0 - sx) * 0.72))
    sp.set_bounds(0, 5)
    sp.set_linewidth(SPINE_LW)
    ax.set_yticks([0, 5])
    ax.set_yticklabels(["", ""])
    ax.tick_params(axis="y", which="major", direction="inout", length=6, width=SPINE_LW)
    ax.set_yticks([2.5], minor=True)
    ax.set_yticklabels(["5"], minor=True)
    ax.tick_params(axis="y", which="minor", length=0, pad=5, labelsize=TICK_FS)


def trace(ax, t, v, lw=LW):
    n = min(len(t), len(v))
    ax.plot(t[:n], v[:n], color="k", lw=lw, clip_on=False, solid_joinstyle="round")


def zero_line(ax):
    ax.axhline(0, color="0.45", lw=0.8, ls=(0, (4, 3)), zorder=0)


def neural(x0, x1, T, c, spk, up, dn, band):
    ax = axes_at(x0, x1, T, c - 10, 10, c + 10, -10)
    ax.axhline(0, color="#111111", lw=band * 0.72, zorder=1)
    ax.vlines(spk, -dn, up, color="#333333", lw=0.6, clip_on=False, zorder=2)
    return ax


def rate_uniform(ax, T, h):
    edges = np.linspace(0, T, len(h) + 1)
    ax.stairs(h, edges, fill=True, color="k", lw=0.3, clip_on=False)


def emg_fill(ax, T, up, pk_t=None, pk=None):
    t = np.linspace(0, T, len(up))
    ax.fill_between(t, 0, up, color="k", lw=0.6, clip_on=False)
    if pk_t is not None:
        ax.vlines(pk_t, 0, pk, color="k", lw=0.8, clip_on=False)


def time_bar(x0, x1, T, y, t0, dur, label):
    ax = axes_at(x0, x1, T, y - 5, 1, y + 5, -1, pad=0)
    ax.plot([t0, t0 + dur], [0, 0], color="k", lw=1.3, clip_on=False)
    ax.plot([t0, t0 + dur], [0, 0], ls="none", marker="|", ms=5.5, mew=1.3, color="k", clip_on=False)
    ax.text(t0 + dur / 2, 0.9, label, ha="center", va="bottom", fontsize=7.5)


def shade(x0, x1, T, y0, y1, bands):
    ax = fig.add_axes([x0 / W, 1 - y1 / H, (x1 - x0) / W, (y1 - y0) / H], zorder=-1)
    ax.set_xlim(0, T)
    ax.axis("off")
    for a, b in bands:
        ax.axvspan(a, b, color=SHADE, lw=0)


def label(x, y, s, ha="left", size=8, **kw):
    fig.text(x / W, 1 - y / H, s, ha=ha, va="center", fontsize=size, **kw)


def label_lines(x, y_first, step, lines):
    # one text per line, so each line keeps its own box
    for i, s in enumerate(lines):
        label(x, y_first + i * step, s)


RATE = "rate, imp·s$^{-1}$"
VEL = "mm·s$^{-1}$"
ACC = "mm·s$^{-2}$"

# ================= top row: A, B, E, F =================
ax = axes_at(88, 230, A_T, 24, 5, 53, 0)
trace(ax, A_len_t, A_len)
len_scale(ax, 77, 88)
ax = axes_at(246, 398, B_T, 24, 5, 53, 0)
trace(ax, B_len_t, B_len)
ax = axes_at(463, 603, E_T, 25, 5, 54, 0)
trace(ax, E_len_t, E_len)
len_scale(ax, 451, 463)
ax = axes_at(620, 772, F_T, 25, 5, 54, 0)
trace(ax, F_len_t, F_len)

time_bar(88, 230, A_T, 72, 0.7, 1.0, "1 s")
time_bar(246, 398, B_T, 72, 0.36, 1.0, "1 s")
time_bar(463, 603, E_T, 72, 0.37, 1.0, "1 s")
time_bar(620, 772, F_T, 72, 0.0, 1.0, "1 s")

ax = axes_at(88, 230, A_T, 79, 30, 104, 0)
ax.axhline(0, color="0.6", lw=1.0, zorder=0)
ax.stairs(A_rate, A_rate_edges, fill=True, color="k", lw=0.3, clip_on=False)
yscale(ax, 78, 88, [0, 30], ["0", "30"])
ax = axes_at(246, 398, B_T, 79, 30, 104, 0)
rate_uniform(ax, B_T, B_rate)
ax = axes_at(463, 603, E_T, 84, 15, 108, 0)
ax.axhline(0, color="0.6", lw=1.0, zorder=0)
rate_uniform(ax, E_T, E_rate)
yscale(ax, 451, 463, [0, 15], ["0", "15"])
ax = axes_at(620, 772, F_T, 84, 15, 108, 0)
rate_uniform(ax, F_T, F_rate)

neural(88, 230, A_T, 122, A_spk, 8, 13, 9)
neural(246, 398, B_T, 121, B_spk, 7, 12, 9)
neural(463, 603, E_T, 126, E_spk, 8, 8, 5)
neural(620, 772, F_T, 126, F_spk, 10, 10, 7)

ax = axes_at(88, 230, A_T, 154, 5, 189, -5)
zero_line(ax)
trace(ax, A_vel_t, A_vel)
yscale(ax, 78, 88, [-5, 0, 5], ["-5", "0", "5"])
ax = axes_at(246, 398, B_T, 154, 5, 189, -5)
zero_line(ax)
trace(ax, B_vel_t, B_vel)
ax = axes_at(463, 603, E_T, 155, 5, 190, -5)
zero_line(ax)
trace(ax, E_vel_t, E_vel)
yscale(ax, 451, 463, [-5, 0, 5], ["-5", "0", "5"])
ax = axes_at(620, 772, F_T, 155, 5, 190, -5)
zero_line(ax)
trace(ax, F_vel_t, F_vel)
for ta in F_arrow_t:
    ax.annotate("", xy=(ta + 0.12, 2.8), xytext=(9, 9), textcoords="offset points",
                arrowprops=dict(arrowstyle="-|>", lw=0.9, color="k", mutation_scale=7,
                                shrinkA=0, shrinkB=0))

ax = axes_at(88, 230, A_T, 208, 0.1, 230, 0)
trace(ax, A_emg_t, A_emg, lw=1.8)
yscale(ax, 78, 88, [0, 0.1], ["0", "0.1"])
ax = axes_at(246, 398, B_T, 208, 0.1, 230, 0)
emg_fill(ax, B_T, B_emg, B_emg_pk_t, B_emg_pk)
ax = axes_at(463, 603, E_T, 213, 0.05, 237, 0)
trace(ax, E_emg_t, E_emg, lw=1.6)
yscale(ax, 451, 463, [0, 0.05], ["0", "0.05"])
ax = axes_at(620, 772, F_T, 213, 0.05, 237, 0)
emg_fill(ax, F_T, F_emg, F_emg_pk_t, F_emg_pk)

label(2, 8, "A", size=12, weight="bold")
label(247, 8, "B", size=12, weight="bold")
label(422, 8, "E", size=12, weight="bold")
label(620, 8, "F", size=12, weight="bold")
label_lines(2, 31, 14, ["Muscle", "length, mm"])
label_lines(2, 83, 13, ["Discharge", RATE])
label(82, 122, "Neural signal", ha="right")
label_lines(2, 163, 14, ["Velocity,", VEL])
label(2, 221, "EMG, mV")
label(242, 149, "Afferent 65-08 (Type Ia)", ha="center", size=9)
label(628, 148, "Afferent 59-02 (Type II)", ha="center", size=9)
label(89, 221, "Finger Extensor")
label(464, 230, "Thumb Abductor")

# ================= middle row: C, G =================
shade(89, 398, C_T, 283, 565, C_bands)
shade(463, 772, G_T, 283, 565, G_bands)

ax = axes_at(89, 398, C_T, 285, 5, 309, 0)
trace(ax, C_len_t, C_len)
len_scale(ax, 77, 89)
ax = axes_at(463, 772, G_T, 285, 5, 308, 0)
trace(ax, G_len_t, G_len)
len_scale(ax, 451, 463)
time_bar(463, 772, G_T, 322, 0.05, 1.0, "1sec")

ax = axes_at(89, 398, C_T, 323, 60, 370, 0)
rate_uniform(ax, C_T, C_rate)
yscale(ax, 78, 89, [0, 30, 60], ["0", "", "60"])
ax = axes_at(463, 772, G_T, 341, 15, 372, 0)
rate_uniform(ax, G_T, G_rate)
yscale(ax, 451, 463, [0, 7.5, 15], ["0", "", "15"])

ax = neural(89, 398, C_T, 388, C_spk, 10, 11, 9)
ax.vlines([C_artifact_t], -42, 18, color="#333333", lw=0.9, clip_on=False)
ax = neural(463, 772, G_T, 389, G_spk, 10, 10, 5)
ax.vlines([G_artifact_t], -18, 10, color="#333333", lw=0.9, clip_on=False)

ax = axes_at(89, 398, C_T, 412, 20, 449, -20)
zero_line(ax)
trace(ax, C_vel_t, C_vel)
yscale(ax, 78, 89, [-20, 0, 20], ["-20", "0", "20"])
ax = axes_at(463, 772, G_T, 411, 20, 449, -20)
zero_line(ax)
trace(ax, G_vel_t, G_vel)
yscale(ax, 451, 463, [-20, 0, 20], ["-20", "0", "20"])

ax = axes_at(89, 398, C_T, 472, 200, 509, -200)
zero_line(ax)
trace(ax, C_acc_t, C_acc)
yscale(ax, 78, 89, [-200, 0, 200], ["-200", "0", "200"])
ax = axes_at(463, 772, G_T, 472, 100, 509, -100)
zero_line(ax)
trace(ax, G_acc_t, G_acc)
yscale(ax, 451, 463, [-100, 0, 100], ["-100", "0", "100"])

ax = axes_at(89, 398, C_T, 542, 0.1, 563, 0)
emg_fill(ax, C_T, C_emg, C_emg_pk_t, C_emg_pk)
yscale(ax, 78, 89, [0, 0.1], ["0", "0.1"])
ax = axes_at(463, 772, G_T, 543, 0.1, 563, 0)
trace(ax, G_emg_t, G_emg, lw=1.0)
yscale(ax, 451, 463, [0, 0.1], ["0", "0.1"])
time_bar(89, 398, C_T, 535, 8.5, 1.0, "1 s")

label(2, 268, "C", size=12, weight="bold")
label(424, 268, "G", size=12, weight="bold")
label_lines(2, 288, 15, ["Muscle", "length, mm"])
label_lines(2, 340, 13, ["Discharge", RATE])
label(81, 388, "Neural signal", ha="right")
label_lines(2, 422, 15, ["Velocity,", VEL])
label_lines(2, 483, 14, ["Acceler.,", ACC])
label_lines(2, 540, 12.5, ["Parent", "muscle", "EMG, mV"])

# ================= bottom row: D, H =================
shade(89, 398, D_T, 613, 905, D_bands)
shade(463, 773, H_T, 608, 864, H_bands)

ax = axes_at(89, 398, D_T, 618, 5, 641, 0)
trace(ax, D_len_t, D_len)
len_scale(ax, 75, 89)
ax = axes_at(463, 773, H_T, 621, 5, 641, 0)
trace(ax, H_len_t, H_len)
len_scale(ax, 451, 463)

ax = axes_at(89, 398, D_T, 651, 60, 699, 0)
ax.stairs(D_rate, D_rate_edges, fill=True, color="k", lw=0.3, clip_on=False)
yscale(ax, 78, 89, [0, 30, 60], ["0", "", "60"])
ax = axes_at(463, 773, H_T, 652, 30, 700, 0)
ax.stairs(H_rate, H_rate_edges, fill=True, color="k", lw=0.3, clip_on=False)
yscale(ax, 451, 463, [0, 15, 30], ["0", "", "30"])
time_bar(463, 773, H_T, 668, 0.4, 0.2, "0.2 s")

neural(89, 398, D_T, 717, D_rate_edges[1:-1], 7, 12, 5)
neural(463, 773, H_T, 718, H_spk, 10, 11, 5)

ax = axes_at(89, 398, D_T, 743, 20, 775, -20)
zero_line(ax)
trace(ax, D_vel_t, D_vel)
yscale(ax, 78, 89, [-20, 0, 20], ["-20", "0", "20"])
ax = axes_at(463, 773, H_T, 742, 20, 775, -20)
zero_line(ax)
trace(ax, H_vel_t, H_vel)
yscale(ax, 451, 463, [-20, 0, 20], ["-20", "0", "20"])

ax = axes_at(89, 398, D_T, 789, 400, 822, -400)
zero_line(ax)
trace(ax, D_acc_t, D_acc)
yscale(ax, 78, 89, [-400, 0, 400], ["-400", "0", "400"])
ax = axes_at(463, 773, H_T, 790, 100, 821, -100)
zero_line(ax)
trace(ax, H_acc_t, H_acc)
yscale(ax, 451, 463, [-100, 0, 100], ["-100", "0", "100"])

ax = axes_at(89, 398, D_T, 837, 0.1, 858, 0)
trace(ax, np.linspace(0, D_T, len(D_pemg)), D_pemg, lw=1.0)
yscale(ax, 78, 89, [0, 0.1], ["0", "0.1"])
ax = axes_at(463, 773, H_T, 837, 0.1, 858, 0)
trace(ax, H_emg_t, H_emg, lw=1.0)
yscale(ax, 451, 463, [0, 0.1], ["0", "0.1"])

ax = axes_at(89, 398, D_T, 884, 0.07, 904, 0)
trace(ax, D_femg_t, D_femg, lw=1.0)
yscale(ax, 78, 89, [0, 0.07], ["0", "0.07"])
time_bar(89, 398, D_T, 890, 2.345, 0.2, "0.2 s")

label(2, 600, "D", size=12, weight="bold")
label(427, 602, "H", size=12, weight="bold")
label_lines(2, 627, 13, ["Muscle", "length, mm"])
label_lines(2, 668, 14, ["Discharge", RATE])
label(81, 718, "Neural signal", ha="right")
label_lines(2, 745, 15, ["Velocity,", VEL])
label_lines(2, 792, 13, ["Acceler.,", ACC])
label_lines(2, 835, 12.5, ["Parent", "muscle", "EMG (mV)"])
label_lines(2, 880, 12.5, ["Flexor", "digitorum", "EMG, mV"])

fig.savefig("out.png", dpi=100, facecolor="white")
